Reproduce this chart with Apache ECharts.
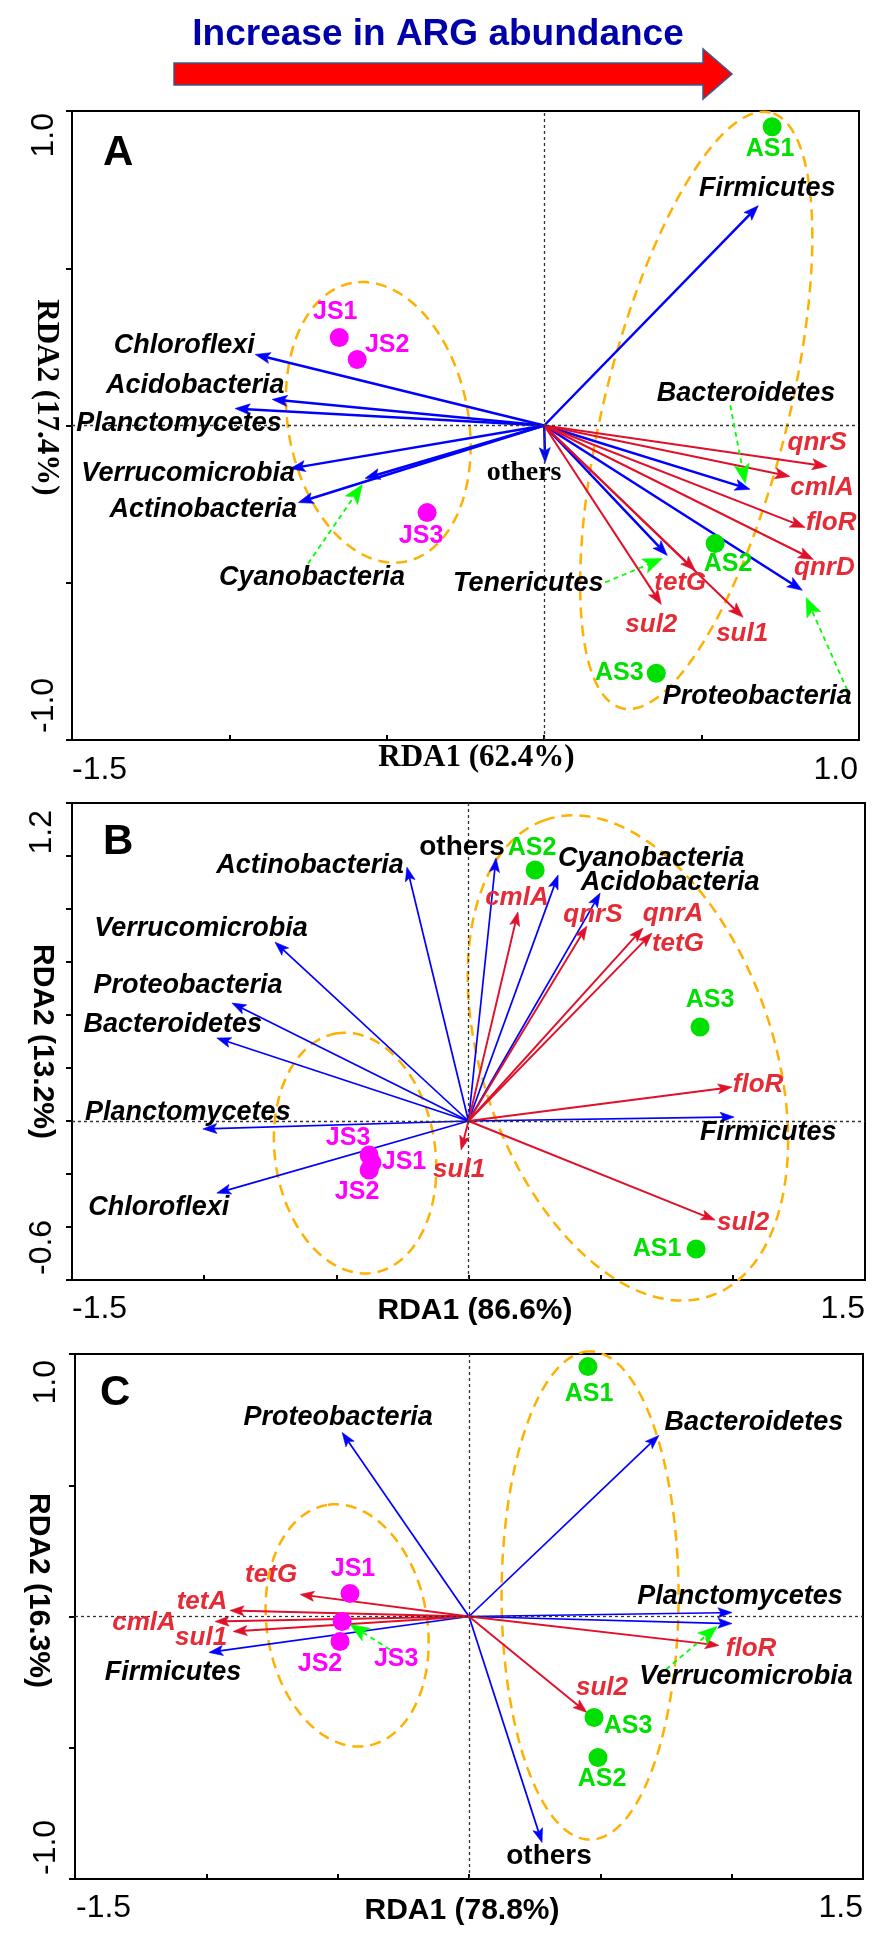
<!DOCTYPE html>
<html><head><meta charset="utf-8">
<script src="https://cdn.jsdelivr.net/npm/echarts@6/dist/echarts.min.js"></script>
<style>html,body{margin:0;padding:0;background:#fff}#c{width:881px;height:1948px}</style>
</head><body><div id="c"></div>
<script>
// ================= DATA =================
// ---- Panel A ----
const A_taxa  = ['Chloroflexi','Acidobacteria','Planctomycetes','Verrucomicrobia','Actinobacteria','Cyanobacteria','Firmicutes','Bacteroidetes','Tenericutes','Proteobacteria','others'];
const A_taxaX = [-0.918,-0.864,-0.982,-0.807,-0.781,-0.569,0.680,0.654,0.391,0.820,0.003];
const A_taxaY = [0.226,0.083,0.054,-0.137,-0.245,-0.168,0.699,-0.203,-0.413,-0.524,-0.118];
const A_args  = ['qnrS','cmlA','floR','qnrD','tetG','sul2','sul1'];
const A_argX  = [0.899,0.781,0.829,0.855,0.480,0.372,0.632];
const A_argY  = [-0.130,-0.162,-0.324,-0.426,-0.461,-0.569,-0.610];
const A_samples = ['JS1','JS2','JS3','AS1','AS2','AS3'];
const A_sampleX = [-0.651,-0.594,-0.372,0.724,0.543,0.356];
const A_sampleY = [0.280,0.210,-0.277,0.950,-0.375,-0.788];
const A_ellipses = [[-0.527,0.010,0.451,0.286,100.8],[0.483,0.048,0.976,0.292,76]]; // cx, cy, a, b, angle
const A_pointers = [[-0.750,-0.439,-0.578,-0.188],[0.591,0.064,0.639,-0.184],[0.194,-0.499,0.375,-0.423],[0.963,-0.842,0.832,-0.547]];
const A_xTickLabels = ['-1.5','1.0'];
const A_yTickLabels = ['-1.0','1.0'];

// ---- Panel B ----
const B_taxa  = ['Actinobacteria','Verrucomicrobia','Proteobacteria','Bacteroidetes','Planctomycetes','Chloroflexi','others','Cyanobacteria','Acidobacteria','Firmicutes'];
const B_taxaX = [-0.233,-0.732,-0.895,-0.952,-1.005,-0.952,0.104,0.339,0.498,1.005];
const B_taxaY = [0.958,0.675,0.445,0.313,-0.030,-0.272,0.992,0.928,0.860,0.015];
const B_args  = ['cmlA','qnrS','qnrA','tetG','floR','sul1','sul2'];
const B_argX  = [0.187,0.448,0.660,0.694,0.997,-0.028,0.933];
const B_argY  = [0.789,0.736,0.728,0.709,0.128,-0.109,-0.374];
const B_samples = ['JS1','JS2','JS3','AS1','AS2','AS3'];
const B_sampleX = [-0.365,-0.376,-0.376,0.861,0.252,0.876];
const B_sampleY = [-0.158,-0.185,-0.128,-0.483,0.947,0.355];
const B_ellipses = [[-0.429,-0.121,0.457,0.303,98.5],[0.603,0.238,0.951,0.549,109.3]];
const B_pointers = [];
const B_xTickLabels = ['-1.5','1.5'];
const B_yTickLabels = ['-0.6','1.2'];

// ---- Panel C ----
const C_taxa  = ['Proteobacteria','Firmicutes','Bacteroidetes','Planctomycetes','Verrucomicrobia','others'];
const C_taxaX = [-0.483,-0.990,0.723,1.001,1.001,0.278];
const C_taxaY = [0.701,-0.137,0.690,0.015,-0.027,-0.861];
const C_args  = ['tetG','tetA','cmlA','sul1','floR','sul2'];
const C_argX  = [-0.643,-0.910,-0.967,-0.898,0.952,0.449];
const C_argY  = [0.084,0.023,-0.019,-0.057,-0.110,-0.366];
const C_samples = ['JS1','JS2','JS3','AS1','AS2','AS3'];
const C_sampleX = [-0.453,-0.491,-0.483,0.453,0.491,0.476];
const C_sampleY = [0.088,-0.095,-0.019,0.952,-0.537,-0.385];
const C_ellipses = [[-0.464,-0.034,0.465,0.305,99.5],[0.461,0.080,0.930,0.337,90]];
const C_pointers = [[0.750,-0.202,0.944,-0.038],[-0.301,-0.126,-0.453,-0.030]];
const C_xTickLabels = ['-1.5','1.5'];
const C_yTickLabels = ['-1.0','1.0'];

// ================= LAYOUT (pixel label offsets from anchor) =================
const A_taxaOff = [[-71,-9],[-77,-14],[-56,15],[-102,5],[-95,7],[-53,99],[9,-17],[-4,-96],[-139,28],[-45,106],[-21,10]];
const A_argOff  = [[-10,-24],[32,11],[26,-5],[11,8],[-15,12],[-10,20],[-1,16]];
const A_sampleOff = [[-4,-25],[30,-14],[-6,23],[-2,22],[13,21],[-37,0]];
const B_taxaOff = [[-97,-2],[-74,-14],[-44,-18],[-44,-14],[-15,-16],[-58,14],[-34,-11],[93,-17],[70,-11],[34,16]];
const B_argOff  = [[-1,-14],[6,-11],[30,-14],[26,11],[26,-2],[-2,20],[28,3]];
const B_sampleOff = [[32,-1],[-12,22],[-21,-17],[-39,0],[-3,-22],[10,-27]];
const C_taxaOff = [[-4,-15],[-36,20],[95,-13],[8,-16],[14,53],[7,14]];
const C_argOff  = [[-29,-20],[-28,-9],[-71,1],[-32,6],[32,3],[15,-25]];
const C_sampleOff = [[3,-24],[-20,23],[54,38],[1,28],[4,22],[34,9]];

// ================= STYLE =================
const SANS = '"Liberation Sans", Arial, Helvetica, sans-serif';
const SERIF = '"Liberation Serif", "Times New Roman", serif';
const BLUE = '#0000FF', RED = '#E0102A', REDTXT = '#E42B36', MAG = '#FF00FF', GRN = '#00E000', ORANGE = '#FFB000', LIME = '#00FF00';

const mctx = document.createElement('canvas').getContext('2d');
function measure(t, font) { mctx.font = font; return mctx.measureText(t).width; }

function arrowShape(p0, p1, color, width, L, W, dash) {
  const dx = p1[0]-p0[0], dy = p1[1]-p0[1];
  const len = Math.hypot(dx, dy) || 1;
  const ux = dx/len, uy = dy/len, px = -uy, py = ux;
  const bx = p1[0]-ux*L, by = p1[1]-uy*L;
  const nx = p1[0]-ux*L*0.78, ny = p1[1]-uy*L*0.78;
  const lineStyle = {stroke: color, lineWidth: width};
  if (dash) lineStyle.lineDash = dash;
  return {type:'group', children:[
    {type:'line', shape:{x1:p0[0], y1:p0[1], x2:nx, y2:ny}, style: lineStyle},
    {type:'polygon', shape:{points:[[p1[0],p1[1]],[bx+px*W,by+py*W],[nx,ny],[bx-px*W,by-py*W]]}, style:{fill:color, stroke:color, lineWidth:0.6}}
  ]};
}

function vectorSeries(gi, xs, ys, color, width, L, W, z) {
  return {type:'custom', xAxisIndex:gi, yAxisIndex:gi, z, silent:true, clip:false,
    data: xs.map((x,k)=>[x, ys[k]]), encode:{x:0, y:1},
    renderItem(params, api) {
      const p0 = api.coord([0,0]);
      const p1 = api.coord([api.value(0), api.value(1)]);
      return arrowShape(p0, p1, color, width, L, W, null);
    }};
}

function pointerSeries(gi, ptrs, z) {
  return {type:'custom', xAxisIndex:gi, yAxisIndex:gi, z, silent:true, clip:false,
    data: ptrs, encode:{x:0, y:1},
    renderItem(params, api) {
      const p0 = api.coord([api.value(0), api.value(1)]);
      const p1 = api.coord([api.value(2), api.value(3)]);
      return arrowShape(p0, p1, LIME, 1.8, 19, 7.5, [5,4]);
    }};
}

function ellipseSeries(gi, ells) {
  return {type:'custom', xAxisIndex:gi, yAxisIndex:gi, z:1, silent:true, clip:false,
    data: ells, encode:{x:0, y:1},
    renderItem(params, api) {
      const cx = api.value(0), cy = api.value(1), a = api.value(2), b = api.value(3);
      const ang = api.value(4) * Math.PI / 180;
      const pts = [];
      for (let k = 0; k <= 160; k++) {
        const t = k/160*2*Math.PI;
        const ex = a*Math.cos(t), ey = b*Math.sin(t);
        pts.push(api.coord([cx + ex*Math.cos(ang) - ey*Math.sin(ang), cy + ex*Math.sin(ang) + ey*Math.cos(ang)]));
      }
      return {type:'polyline', shape:{points:pts}, style:{stroke:ORANGE, lineWidth:2.5, lineDash:[11,7], fill:null}};
    }};
}

function labelSeries(gi, names, xs, ys, offs, styleFn, z) {
  return {type:'custom', xAxisIndex:gi, yAxisIndex:gi, z, silent:true, clip:false,
    data: xs.map((x,k)=>[x, ys[k]]), encode:{x:0, y:1},
    renderItem(params, api) {
      const k = params.dataIndex;
      const p = api.coord([api.value(0), api.value(1)]);
      return {type:'text', x:p[0]+offs[k][0], y:p[1]+offs[k][1], z2:10,
        style: Object.assign({text:names[k], align:'center', verticalAlign:'middle'}, styleFn(names[k]))};
    }};
}

function axisCfg(gi, min, max, interval, labels, isY, margin, gapLo, gapHi, name, nameStyle, nameGap, namePad) {
  const font = '32px ' + SANS;
  const w0 = measure(labels[0], font), w1 = measure(labels[1], font);
  return {
    type:'value', gridIndex:gi, min, max, interval,
    position: isY ? 'left' : 'bottom',
    axisLine:{show:true, onZero:false, lineStyle:{color:'#000', width:2}},
    axisTick:{show:true, inside:!isY, length: isY ? 6 : 5, lineStyle:{color:'#000', width:2}},
    splitLine:{show:false},
    axisLabel:{show:true, interval:0, showMinLabel:true, showMaxLabel:true, hideOverlap:false,
      rotate: isY ? 90 : 0, margin, color:'#000', fontSize:32, fontFamily:SANS,
      formatter: v => Math.abs(v-min) < 1e-6 ? '{lo|' + labels[0] + '}' : (Math.abs(v-max) < 1e-6 ? '{hi|' + labels[1] + '}' : ''),
      rich:{lo:{fontSize:32, fontFamily:SANS, color:'#000', padding:[0,0,0,w0+2*gapLo]},
            hi:{fontSize:32, fontFamily:SANS, color:'#000', padding:[0,w1+2*gapHi,0,0]}}},
    name, nameLocation:'middle', nameGap, nameRotate: isY ? -90 : 0, nameMoveOverlap:false,
    nameTextStyle: Object.assign({padding:namePad, color:'#000'}, nameStyle)
  };
}

const taxaStyleFor = (othersFamily) => (n) => n === 'others'
  ? {fill:'#000', fontSize:28, fontWeight:'bold', fontStyle:'normal', fontFamily:othersFamily}
  : {fill:'#000', fontSize:27, fontWeight:'bold', fontStyle:'italic', fontFamily:SANS};
const argStyle = () => ({fill:REDTXT, fontSize:26, fontWeight:'bold', fontStyle:'italic', fontFamily:SANS});
const sampleStyle = (n) => ({fill: n.indexOf('JS') === 0 ? MAG : GRN, fontSize:25, fontWeight:'bold', fontFamily:SANS});

const panels = [
  {grid:{left:72, top:111, width:787, height:629}, x:[-1.5,1.0,0.5], y:[-1,1,0.5],
   xl:A_xTickLabels, yl:A_yTickLabels, xm:14, ym:12, xg:[0,1], yg:[7,2],
   xName:'RDA1 (62.4%)', yName:'RDA2 (17.4%)', nameStyle:{fontFamily:SERIF, fontWeight:'bold', fontSize:31},
   xNameGap:2, yNameGap:10, xPad:[0,0,0,22], yPad:[0,56,0,0],
   taxa:A_taxa, tx:A_taxaX, ty:A_taxaY, toff:A_taxaOff, args:A_args, ax:A_argX, ay:A_argY, aoff:A_argOff,
   s:A_samples, sx:A_sampleX, sy:A_sampleY, soff:A_sampleOff, ell:A_ellipses, ptr:A_pointers,
   othersFamily:SERIF, blueW:2.5, redW:2.0, L:15, W:5.5},
  {grid:{left:72, top:803, width:793, height:477}, x:[-1.5,1.5,0.5], y:[-0.6,1.2,0.2],
   xl:B_xTickLabels, yl:B_yTickLabels, xm:13, ym:14, xg:[0,0], yg:[5,7],
   xName:'RDA1 (86.6%)', yName:'RDA2 (13.2%)', nameStyle:{fontFamily:SANS, fontWeight:'bold', fontSize:30},
   xNameGap:16, yNameGap:15, xPad:[0,0,0,13], yPad:[0,0,0,0],
   taxa:B_taxa, tx:B_taxaX, ty:B_taxaY, toff:B_taxaOff, args:B_args, ax:B_argX, ay:B_argY, aoff:B_argOff,
   s:B_samples, sx:B_sampleX, sy:B_sampleY, soff:B_sampleOff, ell:B_ellipses, ptr:B_pointers,
   othersFamily:SANS, blueW:1.7, redW:1.9, L:14, W:5},
  {grid:{left:75, top:1354, width:788, height:525}, x:[-1.5,1.5,0.5], y:[-1,1,0.5],
   xl:C_xTickLabels, yl:C_yTickLabels, xm:13, ym:13, xg:[1,0], yg:[4,6],
   xName:'RDA1 (78.8%)', yName:'RDA2 (16.3%)', nameStyle:{fontFamily:SANS, fontWeight:'bold', fontSize:30},
   xNameGap:17, yNameGap:22, xPad:[0,14,0,0], yPad:[0,52,0,0],
   taxa:C_taxa, tx:C_taxaX, ty:C_taxaY, toff:C_taxaOff, args:C_args, ax:C_argX, ay:C_argY, aoff:C_argOff,
   s:C_samples, sx:C_sampleX, sy:C_sampleY, soff:C_sampleOff, ell:C_ellipses, ptr:C_pointers,
   othersFamily:SANS, blueW:1.7, redW:1.9, L:14, W:5}
];

const grids = [], xAxes = [], yAxes = [], series = [];
panels.forEach((p, gi) => {
  grids.push(Object.assign({show:true, borderColor:'#000', borderWidth:2, backgroundColor:'#fff',
    containLabel:false, outerBoundsMode:'none'}, p.grid));
  xAxes.push(axisCfg(gi, p.x[0], p.x[1], p.x[2], p.xl, false, p.xm, p.xg[0], p.xg[1], p.xName, p.nameStyle, p.xNameGap, p.xPad));
  yAxes.push(axisCfg(gi, p.y[0], p.y[1], p.y[2], p.yl, true, p.ym, p.yg[0], p.yg[1], p.yName, p.nameStyle, p.yNameGap, p.yPad));
  series.push(ellipseSeries(gi, p.ell));
  series.push(vectorSeries(gi, p.tx, p.ty, BLUE, p.blueW, p.L, p.W, 3));
  series.push(vectorSeries(gi, p.ax, p.ay, RED, p.redW, p.L, p.W, 4));
  if (p.ptr.length) series.push(pointerSeries(gi, p.ptr, 5));
  series.push({type:'scatter', xAxisIndex:gi, yAxisIndex:gi, z:6, silent:true, symbol:'circle', symbolSize:19,
    data: p.sx.map((x,k)=>[x, p.sy[k]]),
    itemStyle:{opacity:1, color: (prm) => p.s[prm.dataIndex].indexOf('JS') === 0 ? MAG : GRN},
    markLine:{silent:true, symbol:['none','none'], label:{show:false}, animation:false,
      lineStyle:{color:'#333', type:[3,3], width:1.3}, emphasis:{disabled:true},
      data:[{xAxis:0},{yAxis:0}]}});
  series.push(labelSeries(gi, p.taxa, p.tx, p.ty, p.toff, taxaStyleFor(p.othersFamily), 7));
  series.push(labelSeries(gi, p.args, p.ax, p.ay, p.aoff, argStyle, 7));
  series.push(labelSeries(gi, p.s, p.sx, p.sy, p.soff, sampleStyle, 7));
});

const letterStyle = (t) => ({text:t, fill:'#000', fontSize:42, fontWeight:'bold', fontFamily:SANS, align:'left', verticalAlign:'middle'});

const chart = echarts.init(document.getElementById('c'), null, {renderer:'canvas', devicePixelRatio:1});
chart.setOption({
  animation:false,
  backgroundColor:'#fff',
  grid: grids, xAxis: xAxes, yAxis: yAxes, series,
  graphic: [
    {type:'polygon', z:10, shape:{points:[[174,63],[703,63],[703,49],[732,74],[703,99],[703,85],[174,85]]},
     style:{fill:'#FF0000', stroke:'#3D5A8A', lineWidth:1.5}},
    {type:'text', z:10, x:438, y:35, style:{text:'Increase in ARG abundance', fill:'#0000AA', fontSize:37, fontWeight:'bold', fontFamily:SANS, align:'center', verticalAlign:'middle'}},
    {type:'text', z:10, x:103, y:153, style:letterStyle('A')},
    {type:'text', z:10, x:103, y:842, style:letterStyle('B')},
    {type:'text', z:10, x:100, y:1393, style:letterStyle('C')}
  ]
});
</script>
</body></html>
